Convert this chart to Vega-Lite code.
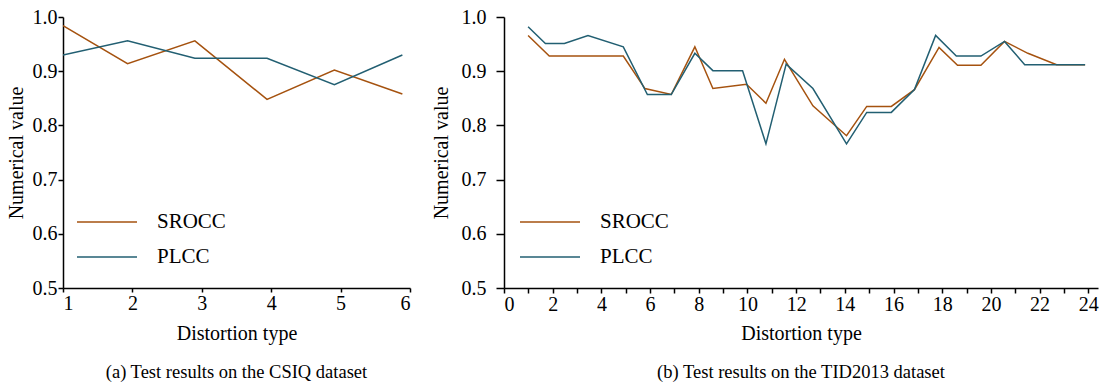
{
  "$schema": "https://vega.github.io/schema/vega-lite/v6.json",
  "padding": {"left": 6, "top": 7, "right": 0, "bottom": 0},
  "background": "white",
  "config": {
    "view": {"stroke": null},
    "font": "Liberation Serif",
    "style": {"guide-label": {"font": "Liberation Serif"}, "guide-title": {"font": "Liberation Serif"}},
    "axis": {"grid": false, "domainColor": "black", "tickColor": "black", "labelColor": "black", "titleColor": "black", "labelFont": "Liberation Serif", "titleFont": "Liberation Serif", "labelFontSize": 20, "titleFontSize": 20, "titleFontWeight": "normal", "domainWidth": 1.5, "tickWidth": 1.5},
    "legend": {"labelFont": "Liberation Serif", "labelFontSize": 21, "labelColor": "black"},
    "title": {"font": "Liberation Serif", "fontSize": 18.5, "fontWeight": "normal", "color": "black", "orient": "bottom"}
  },
  "datasets": {
    "csiq": [
      {"type": 1.0, "value": 0.984, "metric": "SROCC"},
      {"type": 1.93, "value": 0.914, "metric": "SROCC"},
      {"type": 2.9, "value": 0.956, "metric": "SROCC"},
      {"type": 3.94, "value": 0.848, "metric": "SROCC"},
      {"type": 4.91, "value": 0.902, "metric": "SROCC"},
      {"type": 5.89, "value": 0.858, "metric": "SROCC"},
      {"type": 1.0, "value": 0.930, "metric": "PLCC"},
      {"type": 1.93, "value": 0.956, "metric": "PLCC"},
      {"type": 2.9, "value": 0.924, "metric": "PLCC"},
      {"type": 3.94, "value": 0.924, "metric": "PLCC"},
      {"type": 4.91, "value": 0.875, "metric": "PLCC"},
      {"type": 5.89, "value": 0.930, "metric": "PLCC"}
    ],
    "tid": [
      {"type": 0.99, "value": 0.966, "metric": "SROCC"},
      {"type": 1.86, "value": 0.928, "metric": "SROCC"},
      {"type": 2.48, "value": 0.928, "metric": "SROCC"},
      {"type": 3.45, "value": 0.928, "metric": "SROCC"},
      {"type": 4.9, "value": 0.928, "metric": "SROCC"},
      {"type": 5.79, "value": 0.868, "metric": "SROCC"},
      {"type": 6.87, "value": 0.857, "metric": "SROCC"},
      {"type": 7.84, "value": 0.945, "metric": "SROCC"},
      {"type": 8.58, "value": 0.868, "metric": "SROCC"},
      {"type": 9.96, "value": 0.876, "metric": "SROCC"},
      {"type": 10.76, "value": 0.841, "metric": "SROCC"},
      {"type": 11.52, "value": 0.922, "metric": "SROCC"},
      {"type": 12.69, "value": 0.836, "metric": "SROCC"},
      {"type": 14.07, "value": 0.781, "metric": "SROCC"},
      {"type": 14.9, "value": 0.835, "metric": "SROCC"},
      {"type": 15.91, "value": 0.835, "metric": "SROCC"},
      {"type": 16.86, "value": 0.866, "metric": "SROCC"},
      {"type": 17.87, "value": 0.944, "metric": "SROCC"},
      {"type": 18.63, "value": 0.911, "metric": "SROCC"},
      {"type": 19.59, "value": 0.911, "metric": "SROCC"},
      {"type": 20.56, "value": 0.955, "metric": "SROCC"},
      {"type": 21.52, "value": 0.933, "metric": "SROCC"},
      {"type": 22.7, "value": 0.912, "metric": "SROCC"},
      {"type": 23.87, "value": 0.912, "metric": "SROCC"},
      {"type": 0.99, "value": 0.982, "metric": "PLCC"},
      {"type": 1.7, "value": 0.951, "metric": "PLCC"},
      {"type": 2.48, "value": 0.951, "metric": "PLCC"},
      {"type": 3.45, "value": 0.966, "metric": "PLCC"},
      {"type": 4.9, "value": 0.945, "metric": "PLCC"},
      {"type": 5.89, "value": 0.857, "metric": "PLCC"},
      {"type": 6.87, "value": 0.857, "metric": "PLCC"},
      {"type": 7.84, "value": 0.933, "metric": "PLCC"},
      {"type": 8.58, "value": 0.901, "metric": "PLCC"},
      {"type": 9.8, "value": 0.901, "metric": "PLCC"},
      {"type": 10.76, "value": 0.766, "metric": "PLCC"},
      {"type": 11.59, "value": 0.913, "metric": "PLCC"},
      {"type": 12.69, "value": 0.868, "metric": "PLCC"},
      {"type": 14.07, "value": 0.766, "metric": "PLCC"},
      {"type": 14.9, "value": 0.824, "metric": "PLCC"},
      {"type": 15.91, "value": 0.824, "metric": "PLCC"},
      {"type": 16.86, "value": 0.866, "metric": "PLCC"},
      {"type": 17.73, "value": 0.966, "metric": "PLCC"},
      {"type": 18.58, "value": 0.928, "metric": "PLCC"},
      {"type": 19.59, "value": 0.928, "metric": "PLCC"},
      {"type": 20.56, "value": 0.955, "metric": "PLCC"},
      {"type": 21.39, "value": 0.912, "metric": "PLCC"},
      {"type": 22.7, "value": 0.912, "metric": "PLCC"},
      {"type": 23.87, "value": 0.912, "metric": "PLCC"}
    ]
  },
  "spacing": 20,
  "hconcat": [
    {
      "width": 347,
      "height": 271,
      "data": {"name": "csiq"},
      "title": {"text": "(a) Test results on the CSIQ dataset", "offset": 20},
      "mark": {"type": "line", "strokeWidth": 1.5, "clip": true},
      "encoding": {
        "x": {"field": "type", "type": "quantitative", "scale": {"domain": [1, 6], "nice": false, "zero": false},
          "axis": {"title": "Distortion type", "labelFont": "Liberation Serif", "titleFont": "Liberation Serif", "values": [1, 2, 3, 4, 5, 6], "format": "d", "tickSize": 4, "labelPadding": 1, "titlePadding": 10}},
        "y": {"field": "value", "type": "quantitative", "scale": {"domain": [0.5, 1.0], "nice": false, "zero": false},
          "axis": {"title": "Numerical value", "labelFont": "Liberation Serif", "titleFont": "Liberation Serif", "values": [0.5, 0.6, 0.7, 0.8, 0.9, 1.0], "format": ".1f", "tickSize": 5, "labelPadding": 1, "titlePadding": 6}},
        "color": {"field": "metric", "type": "nominal", "scale": {"domain": ["SROCC", "PLCC"], "range": ["#A5520F", "#225F72"]},
          "legend": {"title": null, "orient": "none", "legendX": 28, "legendY": 189, "symbolType": "M-2,0H2", "symbolSize": 900, "symbolStrokeWidth": 1.5, "rowPadding": 9, "labelOffset": 34, "padding": 0}}
      }
    },
    {
      "width": 594,
      "height": 271,
      "data": {"name": "tid"},
      "title": {"text": "(b) Test results on the TID2013 dataset", "offset": 20},
      "mark": {"type": "line", "strokeWidth": 1.5, "clip": true},
      "encoding": {
        "x": {"field": "type", "type": "quantitative", "scale": {"domain": [0, 24.4], "nice": false, "zero": false},
          "axis": {"title": "Distortion type", "labelFont": "Liberation Serif", "titleFont": "Liberation Serif", "values": [0,1,2,3,4,5,6,7,8,9,10,11,12,13,14,15,16,17,18,19,20,21,22,23,24], "labelExpr": "datum.value % 2 === 0 ? datum.label : ''", "tickSize": 5, "labelPadding": 1, "titlePadding": 9}},
        "y": {"field": "value", "type": "quantitative", "scale": {"domain": [0.5, 1.0], "nice": false, "zero": false},
          "axis": {"title": "Numerical value", "labelFont": "Liberation Serif", "titleFont": "Liberation Serif", "values": [0.5, 0.6, 0.7, 0.8, 0.9, 1.0], "format": ".1f", "tickSize": 8, "labelPadding": 10, "titlePadding": 10}},
        "color": {"field": "metric", "type": "nominal", "scale": {"domain": ["SROCC", "PLCC"], "range": ["#A5520F", "#225F72"]},
          "legend": {"title": null, "orient": "none", "legendX": 30, "legendY": 189, "symbolType": "M-2,0H2", "symbolSize": 900, "symbolStrokeWidth": 1.5, "rowPadding": 9, "labelOffset": 34, "padding": 0}}
      }
    }
  ],
  "resolve": {"scale": {"color": "shared"}, "legend": {"color": "independent"}}
}
